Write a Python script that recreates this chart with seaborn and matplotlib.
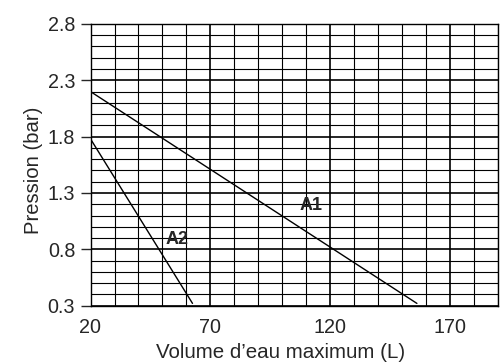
import numpy as np
import pandas as pd
import matplotlib
matplotlib.use("Agg")
import matplotlib.pyplot as plt
import seaborn as sns

# courbes
a1_volume = [20, 156]
a1_pression = [2.2, 0.32]
a2_volume = [20, 62.5]
a2_pression = [1.78, 0.32]

x_ticks = [20, 70, 120, 170]
y_ticks = [0.3, 0.8, 1.3, 1.8, 2.3, 2.8]

sns.set_style("ticks")
plt.rcParams["font.family"] = ["Liberation Sans", "DejaVu Sans"]

df = pd.concat([
    pd.DataFrame({"volume": a1_volume, "pression": a1_pression, "courbe": "A1"}),
    pd.DataFrame({"volume": a2_volume, "pression": a2_pression, "courbe": "A2"}),
])

fig = plt.figure(figsize=(5, 3.63), dpi=100)
ax = fig.add_axes([0.181, 0.158, 0.816, 0.776])

sns.lineplot(data=df, x="volume", y="pression", units="courbe", estimator=None,
             color="black", linewidth=1.0, ax=ax, legend=False)

ax.set_xlim(20, 190)
ax.set_ylim(0.3, 2.8)
ax.set_xticks(x_ticks)
ax.set_yticks(y_ticks)
ax.set_yticklabels([f"{v:.1f}" for v in y_ticks])
ax.set_xticks(np.arange(20, 191, 10), minor=True)
ax.set_yticks(np.arange(0.3, 2.81, 0.1), minor=True)
ax.grid(which="major", color="black", linewidth=1.2)
ax.grid(which="minor", color="black", linewidth=0.8)
ax.tick_params(axis="x", which="both", length=0, labelsize=14.2, pad=9)
ax.tick_params(axis="y", which="major", length=7, width=1, labelsize=14.2, pad=4)
ax.tick_params(axis="y", which="minor", length=0)
for s in ax.spines.values():
    s.set_linewidth(1.0)
    s.set_color("black")

ax.set_xlabel("Volume d’eau maximum (L)", fontsize=14.8)
ax.set_ylabel("Pression (bar)", fontsize=14.6)
ax.xaxis.set_label_coords(0.467, -0.131)
ax.yaxis.set_label_coords(-0.116, 0.48)

ax.text(112, 1.19, "A1", fontsize=13, fontweight="bold", ha="center", va="center")
ax.text(56, 0.89, "A2", fontsize=13, fontweight="bold", ha="center", va="center")

fig.savefig("out.png", dpi=100)
